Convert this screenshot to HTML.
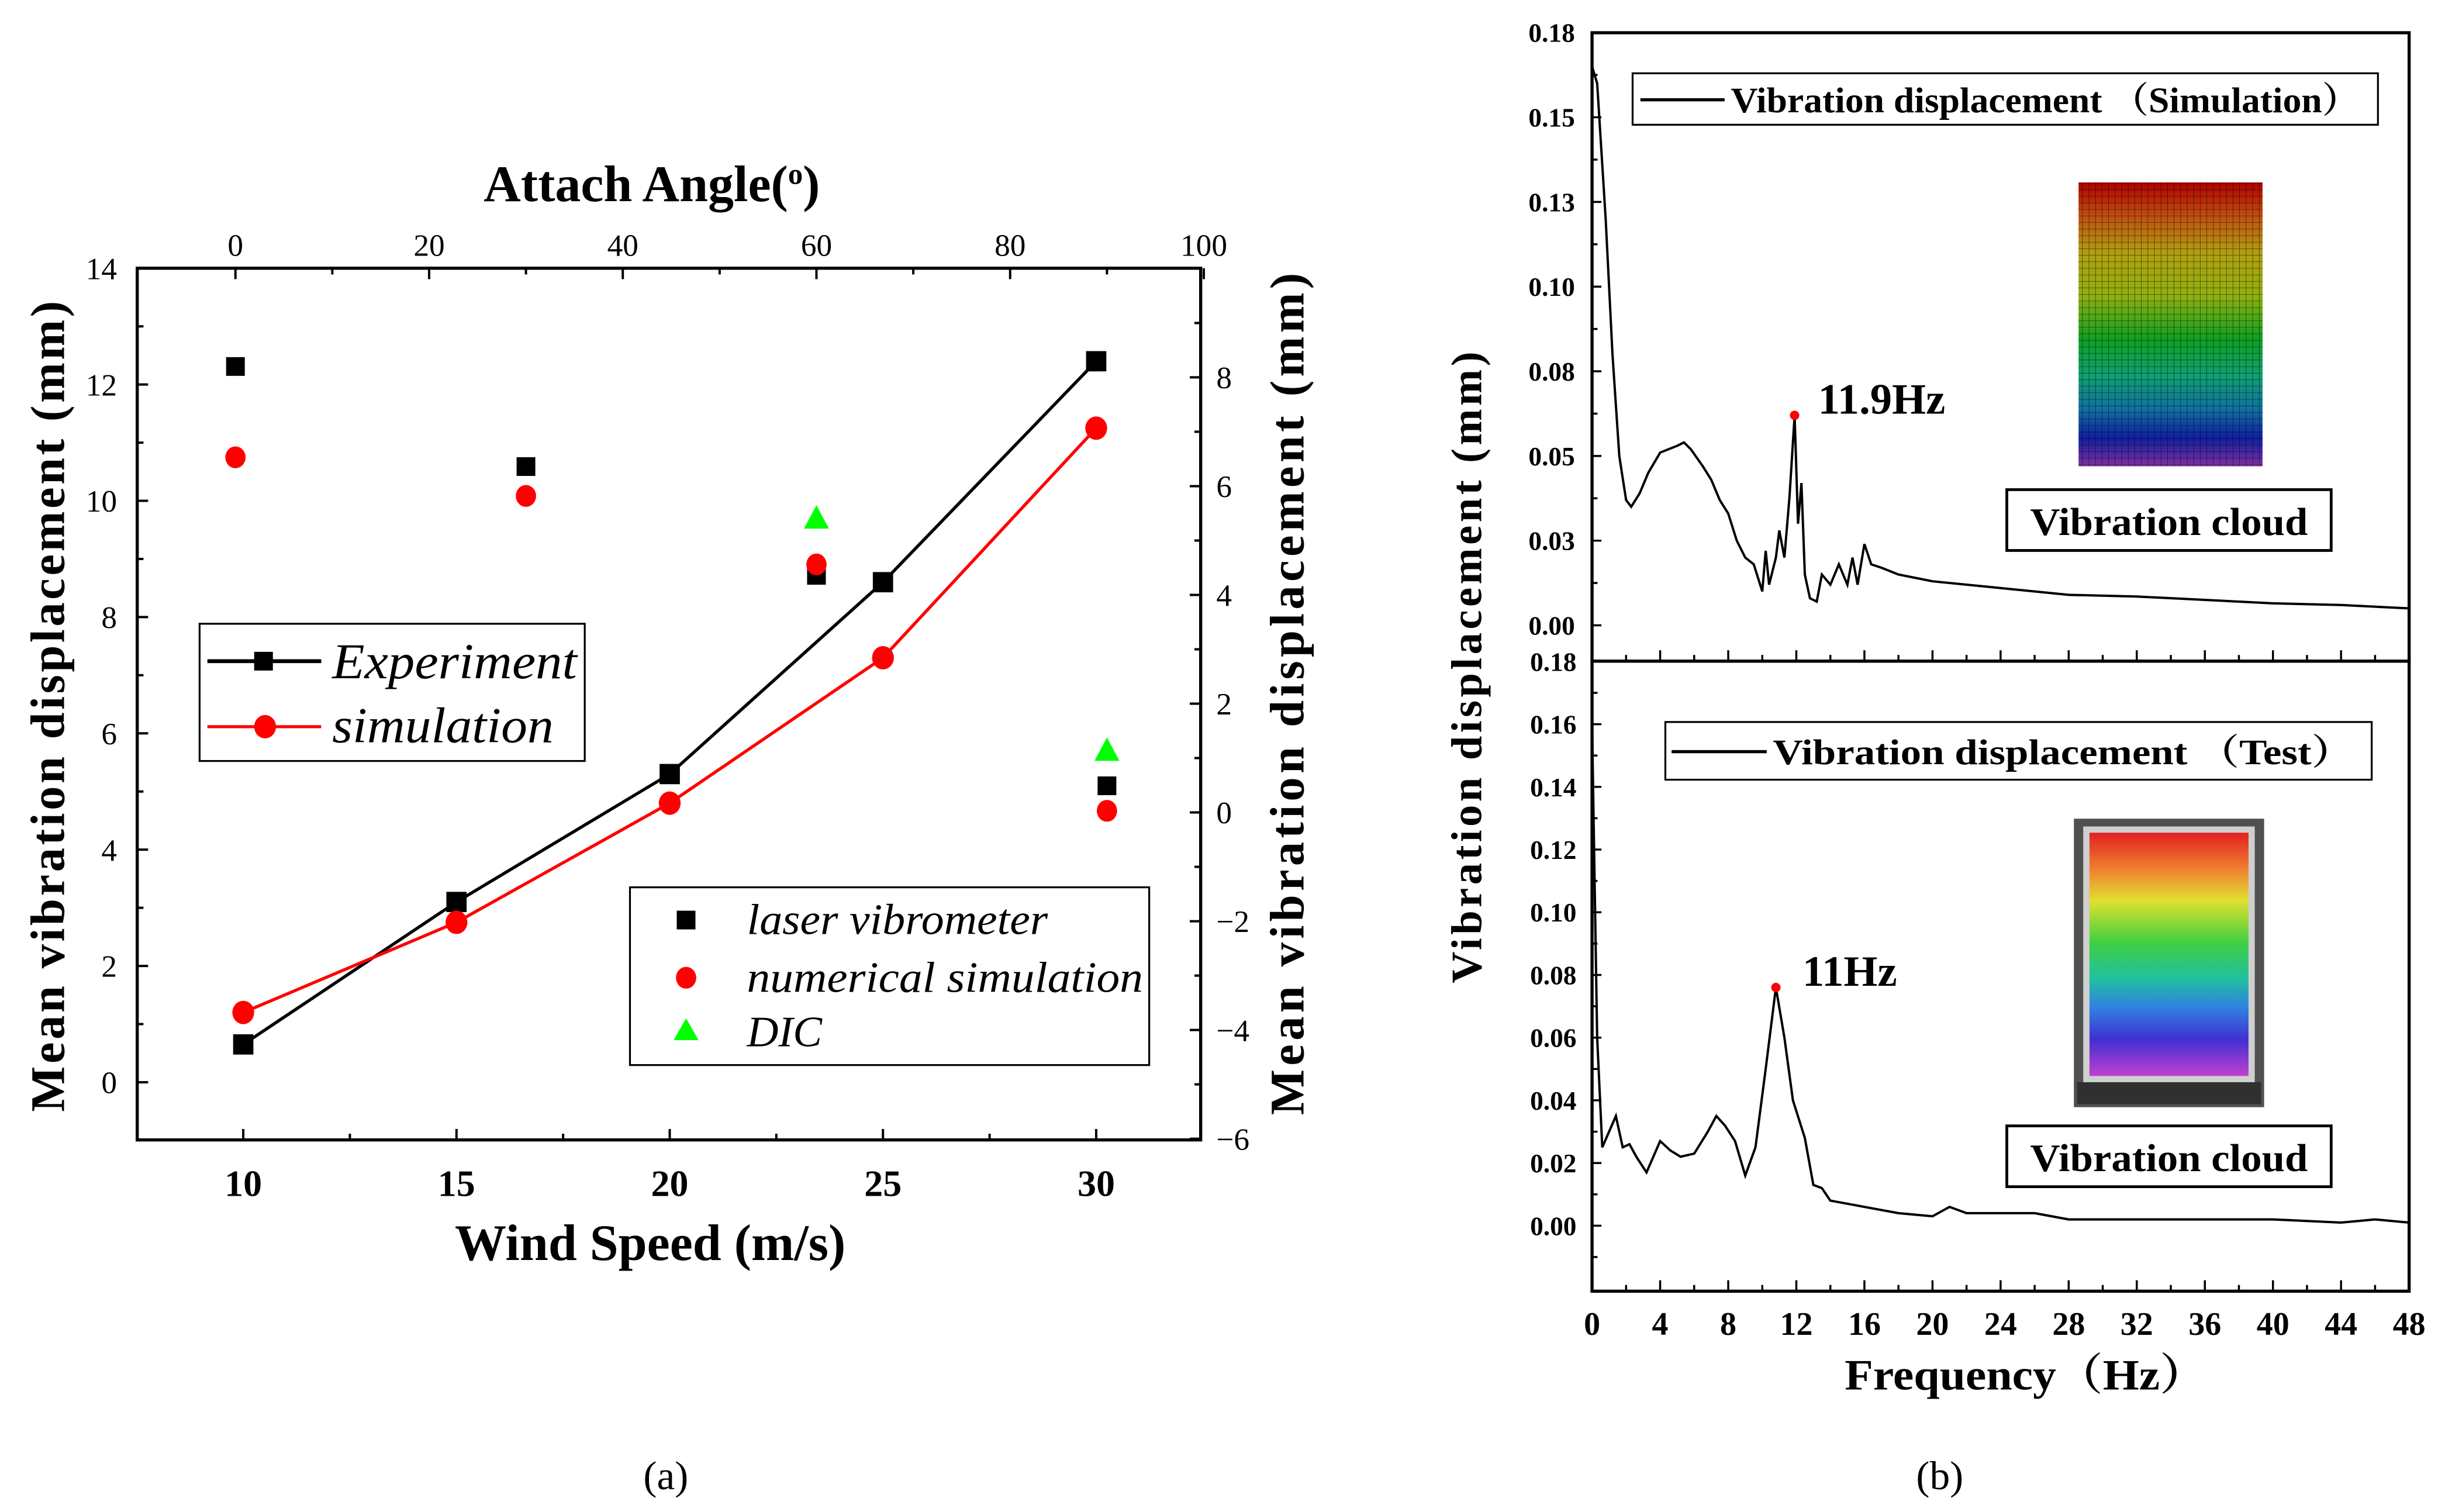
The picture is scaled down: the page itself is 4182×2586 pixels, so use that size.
<!DOCTYPE html>
<html><head><meta charset="utf-8"><style>
html,body{margin:0;padding:0;background:#fff;}
svg{display:block;font-family:"Liberation Serif",serif;}
text{font-family:"Liberation Serif",serif;}
</style></head>
<body>
<svg id="fig" width="4182" height="2586" viewBox="0 0 1568 969.6" xmlns="http://www.w3.org/2000/svg">
<defs>
<linearGradient id="gsim" x1="0" y1="0" x2="0" y2="1">
<stop offset="0" stop-color="#b00000"/><stop offset="0.12" stop-color="#c05010"/><stop offset="0.25" stop-color="#b0a010"/><stop offset="0.4" stop-color="#90b010"/><stop offset="0.55" stop-color="#10a020"/><stop offset="0.68" stop-color="#10a070"/><stop offset="0.8" stop-color="#1070a0"/><stop offset="0.9" stop-color="#1020a0"/><stop offset="1" stop-color="#8030a0"/>
</linearGradient>
<linearGradient id="gtest" x1="0" y1="0" x2="0" y2="1">
<stop offset="0" stop-color="#e02020"/><stop offset="0.15" stop-color="#f08030"/><stop offset="0.28" stop-color="#e0e030"/><stop offset="0.45" stop-color="#40d040"/><stop offset="0.6" stop-color="#20c0a0"/><stop offset="0.72" stop-color="#3080e0"/><stop offset="0.85" stop-color="#4030d0"/><stop offset="1" stop-color="#c040d0"/>
</linearGradient>
<pattern id="mesh" width="4.2" height="4.2" patternUnits="userSpaceOnUse">
<path d="M4.2 0V4.2M0 4.2H4.2" stroke="#000" stroke-width="0.5" fill="none" opacity="0.7"/>
</pattern>
</defs>
<g id="pa"></g>
<g id="pb"></g>
<text x="427" y="955" font-size="26" text-anchor="middle">(a)</text>
<text x="1244" y="955" font-size="26" text-anchor="middle">(b)</text>
</svg>
<script>
// ---------- Panel (a) data ----------
const windSpeeds = [10, 15, 20, 25, 30];
const experimentValues = [0.65, 3.1, 5.3, 8.6, 12.4];
const simulationValues = [1.2, 2.75, 4.8, 7.3, 11.25];
const attachAngles = [0, 30, 60, 90];
const laserValues = [8.2, 6.36, 4.36, 0.49];
const numericalValues = [6.53, 5.82, 4.56, 0.03];
const dicAngles = [60, 90];
const dicValues = [5.42, 1.15];
const leftTicks = [0, 2, 4, 6, 8, 10, 12, 14];
const rightTicks = [-6, -4, -2, 0, 2, 4, 6, 8];
const bottomTicks = [10, 15, 20, 25, 30];
const topTicks = [0, 20, 40, 60, 80, 100];
// ---------- Panel (b) data ----------
const simFreq = [0,0.3,0.8,1.2,1.6,2.0,2.3,2.8,3.3,4,5,5.4,5.8,6.5,7,7.5,8,8.5,9,9.5,10,10.2,10.4,10.8,11,11.3,11.6,11.9,12.1,12.3,12.5,12.8,13.2,13.5,14,14.5,15,15.3,15.6,16,16.4,17,18,20,24,28,32,36,40,44,48];
const simDisp = [0.165,0.16,0.12,0.08,0.05,0.037,0.035,0.039,0.045,0.051,0.053,0.054,0.052,0.047,0.043,0.037,0.033,0.025,0.02,0.018,0.01,0.022,0.012,0.02,0.028,0.02,0.038,0.062,0.03,0.042,0.015,0.008,0.007,0.015,0.012,0.018,0.012,0.02,0.012,0.024,0.018,0.017,0.015,0.013,0.011,0.009,0.0085,0.0075,0.0065,0.006,0.005];
const testFreq = [0,0.3,0.6,1,1.4,1.8,2.2,2.6,3.2,4,4.6,5.2,6,6.8,7.3,7.8,8.4,9,9.6,10.2,10.8,11.3,11.8,12.5,13,13.5,14,16,18,20,21,22,24,26,28,32,40,44,46,48];
const testDisp = [0.16,0.06,0.025,0.03,0.035,0.025,0.026,0.022,0.017,0.027,0.024,0.022,0.023,0.03,0.035,0.032,0.027,0.016,0.025,0.05,0.076,0.06,0.04,0.028,0.013,0.012,0.008,0.006,0.004,0.003,0.006,0.004,0.004,0.004,0.002,0.002,0.002,0.001,0.002,0.001];
const simYTicks = [0, 0.025, 0.05, 0.075, 0.1, 0.125, 0.15, 0.175];
const simYLabels = ["0.00","0.03","0.05","0.08","0.10","0.13","0.15","0.18"];
const testYTicks = [0, 0.02, 0.04, 0.06, 0.08, 0.1, 0.12, 0.14, 0.16, 0.18];
const freqTicks = [0,4,8,12,16,20,24,28,32,36,40,44,48];
const simPeak = [11.9, 0.062];
const testPeak = [10.8, 0.076];

const NS = "http://www.w3.org/2000/svg";
function mk(parent, tag, attrs, txt) {
  const e = document.createElementNS(NS, tag);
  for (const k in attrs) e.setAttribute(k, attrs[k]);
  if (txt !== undefined) e.textContent = txt;
  parent.appendChild(e);
  return e;
}
function lin(d0, d1, r0, r1) { return v => r0 + (v - d0) * (r1 - r0) / (d1 - d0); }

// ---------- Panel (a) ----------
const pa = document.getElementById('pa');
const AX0 = 88, AX1 = 770, AY0 = 172, AY1 = 731;
const xB = lin(10, 30, 156, 703);
const xT = lin(0, 100, 151, 772);
const yL = lin(0, 14, 694, 172);
const yR = lin(0, 8, 521, 242);
let e;
e = mk(pa, 'rect', {x: AX0, y: AY0, width: AX1 - AX0, height: AY1 - AY0, fill: 'none', stroke: '#000', 'stroke-width': 2});


leftTicks.forEach((v, i) => {
  const y = yL(v);
  mk(pa, 'line', {x1: AX0, x2: AX0 + 7, y1: y, y2: y, stroke: '#000', 'stroke-width': 1.5});
  if (i < leftTicks.length - 1) { const ym = yL(v + 1); mk(pa, 'line', {x1: AX0, x2: AX0 + 4, y1: ym, y2: ym, stroke: '#000', 'stroke-width': 1.5}); }
  e = mk(pa, 'text', {x: 75, y: y + 7, 'font-size': 20, 'text-anchor': 'end'}, String(v));
  
  
});
rightTicks.forEach((v, i) => {
  const y = yR(v);
  mk(pa, 'line', {x1: AX1 - 7, x2: AX1, y1: y, y2: y, stroke: '#000', 'stroke-width': 1.5});
  const ym = yR(v + 1); if (ym > AY0) mk(pa, 'line', {x1: AX1 - 4, x2: AX1, y1: ym, y2: ym, stroke: '#000', 'stroke-width': 1.5});
  e = mk(pa, 'text', {x: 780, y: y + 7, 'font-size': 20}, v < 0 ? '\u2212' + (-v) : String(v));
  
  
});
bottomTicks.forEach(v => {
  const x = xB(v);
  mk(pa, 'line', {x1: x, x2: x, y1: AY1, y2: AY1 - 7, stroke: '#000', 'stroke-width': 1.5});
  const xm = xB(v + 2.5); if (xm < AX1) mk(pa, 'line', {x1: xm, x2: xm, y1: AY1, y2: AY1 - 4, stroke: '#000', 'stroke-width': 1.5});
  e = mk(pa, 'text', {x: x, y: 767, 'font-size': 24, 'font-weight': 'bold', 'text-anchor': 'middle'}, String(v));
  
  
});
topTicks.forEach(v => {
  const x = xT(v);
  mk(pa, 'line', {x1: x, x2: x, y1: AY0, y2: AY0 + 7, stroke: '#000', 'stroke-width': 1.5});
  const xm = xT(v + 10); if (xm < AX1) mk(pa, 'line', {x1: xm, x2: xm, y1: AY0, y2: AY0 + 4, stroke: '#000', 'stroke-width': 1.5});
  e = mk(pa, 'text', {x: x, y: 164, 'font-size': 20, 'text-anchor': 'middle'}, String(v));
  
  
});
// titles
e = mk(pa, 'text', {x: 418, y: 129, 'font-size': 33, 'font-weight': 'bold', 'text-anchor': 'middle'});


mk(e, 'tspan', {}, 'Attach Angle(');
mk(e, 'tspan', {dy: -11, 'font-size': 19}, 'o');
mk(e, 'tspan', {dy: 11}, ')');
e = mk(pa, 'text', {x: 417, y: 808, 'font-size': 33, 'font-weight': 'bold', 'text-anchor': 'middle'}, 'Wind Speed (m/s)');


e = mk(pa, 'text', {x: 0, y: 0, 'font-size': 31, 'font-weight': 'bold', 'text-anchor': 'middle', textLength: 520, lengthAdjust: 'spacing', transform: 'translate(41,453) rotate(-90)'}, 'Mean vibration displacement (mm)');


e = mk(pa, 'text', {x: 0, y: 0, 'font-size': 31, 'font-weight': 'bold', 'text-anchor': 'middle', textLength: 540, lengthAdjust: 'spacing', transform: 'translate(836,445) rotate(-90)'}, 'Mean vibration displacement (mm)');


// lines
e = mk(pa, 'polyline', {points: windSpeeds.map((w, i) => xB(w) + ',' + yL(experimentValues[i])).join(' '), fill: 'none', stroke: '#000', 'stroke-width': 2});


e = mk(pa, 'polyline', {points: windSpeeds.map((w, i) => xB(w) + ',' + yL(simulationValues[i])).join(' '), fill: 'none', stroke: '#f00', 'stroke-width': 2});


windSpeeds.forEach((w, i) => {
  e = mk(pa, 'rect', {x: xB(w) - 6.5, y: yL(experimentValues[i]) - 6.5, width: 13, height: 13, fill: '#000'});
  
  
  e = mk(pa, 'ellipse', {cx: xB(w), cy: yL(simulationValues[i]), rx: 7, ry: 7.5, fill: '#f00'});
  
  
});
attachAngles.forEach((a, i) => {
  e = mk(pa, 'rect', {x: xT(a) - 6, y: yR(laserValues[i]) - 6, width: 12, height: 12, fill: '#000'});
  
  
  e = mk(pa, 'ellipse', {cx: xT(a), cy: yR(numericalValues[i]), rx: 6.5, ry: 7, fill: '#f00'});
  
  
});
dicAngles.forEach((a, i) => {
  const x = xT(a), y = yR(dicValues[i]);
  e = mk(pa, 'polygon', {points: `${x},${y - 8} ${x - 8},${y + 7} ${x + 8},${y + 7}`, fill: '#0f0'});
  
  
});
// legend 1
const lg1 = mk(pa, 'g', {});


mk(lg1, 'rect', {x: 128, y: 400, width: 247, height: 88, fill: '#fff', stroke: '#000', 'stroke-width': 1.2});
mk(lg1, 'line', {x1: 133, x2: 206, y1: 424, y2: 424, stroke: '#000', 'stroke-width': 2.5});
mk(lg1, 'rect', {x: 163, y: 418, width: 12, height: 12, fill: '#000'});
e = mk(lg1, 'text', {x: 213, y: 435, 'font-size': 32, 'font-style': 'italic', textLength: 157, lengthAdjust: 'spacingAndGlyphs'}, 'Experiment');


mk(lg1, 'line', {x1: 133, x2: 206, y1: 466, y2: 466, stroke: '#f00', 'stroke-width': 2});
mk(lg1, 'ellipse', {cx: 170, cy: 466, rx: 7, ry: 7.5, fill: '#f00'});
e = mk(lg1, 'text', {x: 213, y: 476, 'font-size': 32, 'font-style': 'italic', textLength: 142, lengthAdjust: 'spacingAndGlyphs'}, 'simulation');


// legend 2
const lg2 = mk(pa, 'g', {});


mk(lg2, 'rect', {x: 404, y: 569, width: 333, height: 114, fill: '#fff', stroke: '#000', 'stroke-width': 1.2});
mk(lg2, 'rect', {x: 434, y: 584, width: 12, height: 12, fill: '#000'});
e = mk(lg2, 'text', {x: 479, y: 599, 'font-size': 28, 'font-style': 'italic', textLength: 193, lengthAdjust: 'spacingAndGlyphs'}, 'laser vibrometer');


mk(lg2, 'ellipse', {cx: 440, cy: 627, rx: 6.5, ry: 7, fill: '#f00'});
e = mk(lg2, 'text', {x: 479, y: 636, 'font-size': 28, 'font-style': 'italic', textLength: 254, lengthAdjust: 'spacingAndGlyphs'}, 'numerical simulation');


mk(lg2, 'polygon', {points: '440,653 432,667 448,667', fill: '#0f0'});
e = mk(lg2, 'text', {x: 479, y: 671, 'font-size': 28, 'font-style': 'italic'}, 'DIC');



// ---------- Panel (b) ----------
const pb = document.getElementById('pb');
const BX0 = 1021, BX1 = 1545;
const xF = lin(0, 48, 1021, 1545);
const yS = lin(0, 0.025, 401, 346.7);
const yT = lin(0, 0.02, 786, 745.8);
const TOP0 = 21, MID = 424, BOT = 828;
e = mk(pb, 'rect', {x: BX0, y: TOP0, width: BX1 - BX0, height: MID - TOP0, fill: 'none', stroke: '#000', 'stroke-width': 2});


e = mk(pb, 'rect', {x: BX0, y: MID, width: BX1 - BX0, height: BOT - MID, fill: 'none', stroke: '#000', 'stroke-width': 2});


simYTicks.forEach((v, i) => {
  const y = yS(v);
  mk(pb, 'line', {x1: BX0, x2: BX0 + 6, y1: y, y2: y, stroke: '#000', 'stroke-width': 1.3});
  const ym = yS(v + 0.0125); if (ym > TOP0) mk(pb, 'line', {x1: BX0, x2: BX0 + 3.5, y1: ym, y2: ym, stroke: '#000', 'stroke-width': 1.3});
  e = mk(pb, 'text', {x: 1010, y: y + 6, 'font-size': 17, 'font-weight': 'bold', 'text-anchor': 'end'}, simYLabels[i]);
  
  
});
testYTicks.forEach(v => {
  const y = yT(v);
  mk(pb, 'line', {x1: BX0, x2: BX0 + 6, y1: y, y2: y, stroke: '#000', 'stroke-width': 1.3});
  const ym = yT(v - 0.01); if (ym < BOT) mk(pb, 'line', {x1: BX0, x2: BX0 + 3.5, y1: ym, y2: ym, stroke: '#000', 'stroke-width': 1.3});
  e = mk(pb, 'text', {x: 1011, y: y + 6, 'font-size': 17, 'font-weight': 'bold', 'text-anchor': 'end'}, v.toFixed(2));
  
  
});
freqTicks.forEach(v => {
  const x = xF(v);
  mk(pb, 'line', {x1: x, x2: x, y1: BOT, y2: BOT - 7, stroke: '#000', 'stroke-width': 1.3});
  mk(pb, 'line', {x1: x, x2: x, y1: MID, y2: MID - 7, stroke: '#000', 'stroke-width': 1.3});
  const xm = xF(v + 2); if (xm < BX1) { mk(pb, 'line', {x1: xm, x2: xm, y1: BOT, y2: BOT - 4, stroke: '#000', 'stroke-width': 1.3}); mk(pb, 'line', {x1: xm, x2: xm, y1: MID, y2: MID - 4, stroke: '#000', 'stroke-width': 1.3}); }
  e = mk(pb, 'text', {x: x, y: 856, 'font-size': 21, 'font-weight': 'bold', 'text-anchor': 'middle'}, String(v));
  
  
});
e = mk(pb, 'text', {x: 1299, y: 891, 'font-size': 28, 'font-weight': 'bold', 'text-anchor': 'middle', textLength: 232, lengthAdjust: 'spacingAndGlyphs'}, 'Frequency（Hz）');


e.setAttribute('style', 'font-family:"Liberation Serif","Noto Serif CJK SC",serif');
e = mk(pb, 'text', {x: 0, y: 0, 'font-size': 28, 'font-weight': 'bold', 'text-anchor': 'middle', textLength: 405, lengthAdjust: 'spacing', transform: 'translate(950,428) rotate(-90)'}, 'Vibration displacement (mm)');


// curves
e = mk(pb, 'polyline', {points: simFreq.map((f, i) => xF(f) + ',' + yS(simDisp[i])).join(' '), fill: 'none', stroke: '#000', 'stroke-width': 1.5});


e = mk(pb, 'polyline', {points: testFreq.map((f, i) => xF(f) + ',' + yT(testDisp[i])).join(' '), fill: 'none', stroke: '#000', 'stroke-width': 1.5});


e = mk(pb, 'circle', {cx: xF(simPeak[0]), cy: yS(simPeak[1]), r: 3, fill: '#f00'});


e = mk(pb, 'circle', {cx: xF(testPeak[0]), cy: yT(testPeak[1]), r: 3, fill: '#f00'});


e = mk(pb, 'text', {x: xF(simPeak[0]) + 15, y: yS(simPeak[1]) - 1, 'font-size': 28, 'font-weight': 'bold'}, '11.9Hz');


e = mk(pb, 'text', {x: xF(testPeak[0]) + 17, y: yT(testPeak[1]) - 1, 'font-size': 28, 'font-weight': 'bold'}, '11Hz');


// legends
const lg3 = mk(pb, 'g', {});


mk(lg3, 'rect', {x: 1047, y: 47, width: 478, height: 33, fill: '#fff', stroke: '#000', 'stroke-width': 1.2});
mk(lg3, 'line', {x1: 1052, x2: 1106, y1: 64, y2: 64, stroke: '#000', 'stroke-width': 2});
mk(lg3, 'text', {x: 1110, y: 72, 'font-size': 23, 'font-weight': 'bold', textLength: 403, lengthAdjust: 'spacingAndGlyphs', style: 'font-family:"Liberation Serif","Noto Serif CJK SC",serif'}, 'Vibration displacement （Simulation）');
const lg4 = mk(pb, 'g', {});


mk(lg4, 'rect', {x: 1068, y: 463, width: 453, height: 37, fill: '#fff', stroke: '#000', 'stroke-width': 1.2});
mk(lg4, 'line', {x1: 1072, x2: 1133, y1: 482, y2: 482, stroke: '#000', 'stroke-width': 2});
mk(lg4, 'text', {x: 1137, y: 490, 'font-size': 23, 'font-weight': 'bold', textLength: 372, lengthAdjust: 'spacingAndGlyphs', style: 'font-family:"Liberation Serif","Noto Serif CJK SC",serif'}, 'Vibration displacement （Test）');
// insets
e = mk(pb, 'g', {});


mk(e, 'rect', {x: 1333, y: 117, width: 118, height: 182, fill: 'url(#gsim)'});
mk(e, 'rect', {x: 1333, y: 117, width: 118, height: 182, fill: 'url(#mesh)'});
e = mk(pb, 'g', {});


mk(e, 'rect', {x: 1330, y: 525, width: 122, height: 185, fill: '#505050'});
mk(e, 'rect', {x: 1336, y: 530, width: 110, height: 164, fill: '#cfcfcf'});
mk(e, 'rect', {x: 1340, y: 534, width: 102, height: 156, fill: 'url(#gtest)'});
mk(e, 'rect', {x: 1332, y: 694, width: 118, height: 14, fill: '#303030'});
[['simulation-cloud-caption', 314], ['test-cloud-caption', 722]].forEach(([n, y]) => {
  const g = mk(pb, 'g', {});
  
  
  mk(g, 'rect', {x: 1287, y: y, width: 208, height: 39, fill: '#fff', stroke: '#000', 'stroke-width': 1.8});
  mk(g, 'text', {x: 1391, y: y + 29, 'font-size': 25, 'font-weight': 'bold', 'text-anchor': 'middle', textLength: 178, lengthAdjust: 'spacingAndGlyphs'}, 'Vibration cloud');
});
</script>
</body></html>
